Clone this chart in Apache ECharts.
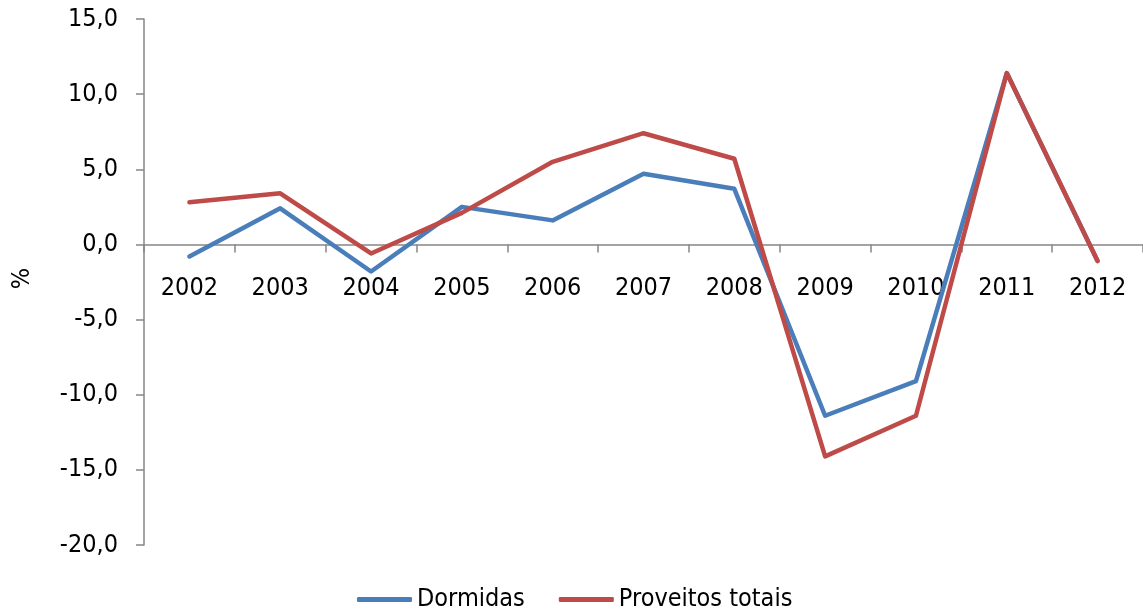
<!DOCTYPE html>
<html>
<head>
<meta charset="utf-8">
<script src="https://cdn.jsdelivr.net/npm/echarts@6/dist/echarts.min.js"></script>
<style>
html,body{margin:0;padding:0;background:#fff;}
#chart{width:1143px;height:612px;}
</style>
</head>
<body>
<div id="chart"></div>
<script>
const categories = ['2002','2003','2004','2005','2006','2007','2008','2009','2010','2011','2012'];
const dormidas = [-0.8, 2.4, -1.8, 2.5, 1.6, 4.7, 3.7, -11.4, -9.1, 11.4, -1.1];
const proveitos = [2.8, 3.4, -0.6, 2.1, 5.5, 7.4, 5.7, -14.1, -11.4, 11.4, -1.1];
const yMin = -20, yMax = 15, yStep = 5;

const font = '"DejaVu Sans Condensed", "DejaVu Sans"';
const fs = 25;
const gridTop = 19, gridBottom = 67, H = 612;
const plotH = H - gridTop - gridBottom;
const zeroOffset = -plotH * (0 - yMin) / (yMax - yMin);

const chart = echarts.init(document.getElementById('chart'));
chart.setOption({
  animation: false,
  backgroundColor: '#ffffff',
  grid: { left: 144, right: 0, top: gridTop, bottom: gridBottom, containLabel: false },
  graphic: [{
    type: 'text', left: 10, top: 268, rotation: Math.PI/2,
    style: { text: '%', font: fs + 'px "DejaVu Sans Condensed"', fill: '#000' }
  }],
  xAxis: {
    type: 'category', data: categories, boundaryGap: true,
    position: 'bottom', offset: zeroOffset,
    axisLine: { onZero: false, lineStyle: { color: '#868686', width: 1.5 } },
    axisTick: { show: true, alignWithLabel: false, length: 8, lineStyle: { color: '#868686', width: 1.5 } },
    axisLabel: { color: '#000', fontFamily: font, fontSize: fs, margin: 32 },
    splitLine: { show: false }
  },
  yAxis: {
    type: 'value', min: yMin, max: yMax, interval: yStep,
    axisLine: { show: true, lineStyle: { color: '#868686', width: 1.5 } },
    axisTick: { show: true, length: 8, lineStyle: { color: '#868686', width: 1.5 } },
    axisLabel: { color: '#000', fontFamily: font, fontSize: fs, margin: 26,
      formatter: v => v.toFixed(1).replace('.', ',') },
    splitLine: { show: false }
  },
  legend: {
    top: 582, left: 352, itemGap: 34, itemWidth: 55, itemHeight: 5,
    textStyle: { color: '#000', fontFamily: font, fontSize: fs },
    data: [
      { name: 'Dormidas', icon: 'roundRect' },
      { name: 'Proveitos totais', icon: 'roundRect' }
    ]
  },
  series: [
    { name: 'Dormidas', type: 'line', data: dormidas, showSymbol: false, symbol: 'none',
      color: '#4A7EBB', lineStyle: { width: 4.5, color: '#4A7EBB', cap: 'round', join: 'round' } },
    { name: 'Proveitos totais', type: 'line', data: proveitos, showSymbol: false, symbol: 'none',
      color: '#BE4B48', lineStyle: { width: 4.5, color: '#BE4B48', cap: 'round', join: 'round' } }
  ]
});
</script>
</body>
</html>
